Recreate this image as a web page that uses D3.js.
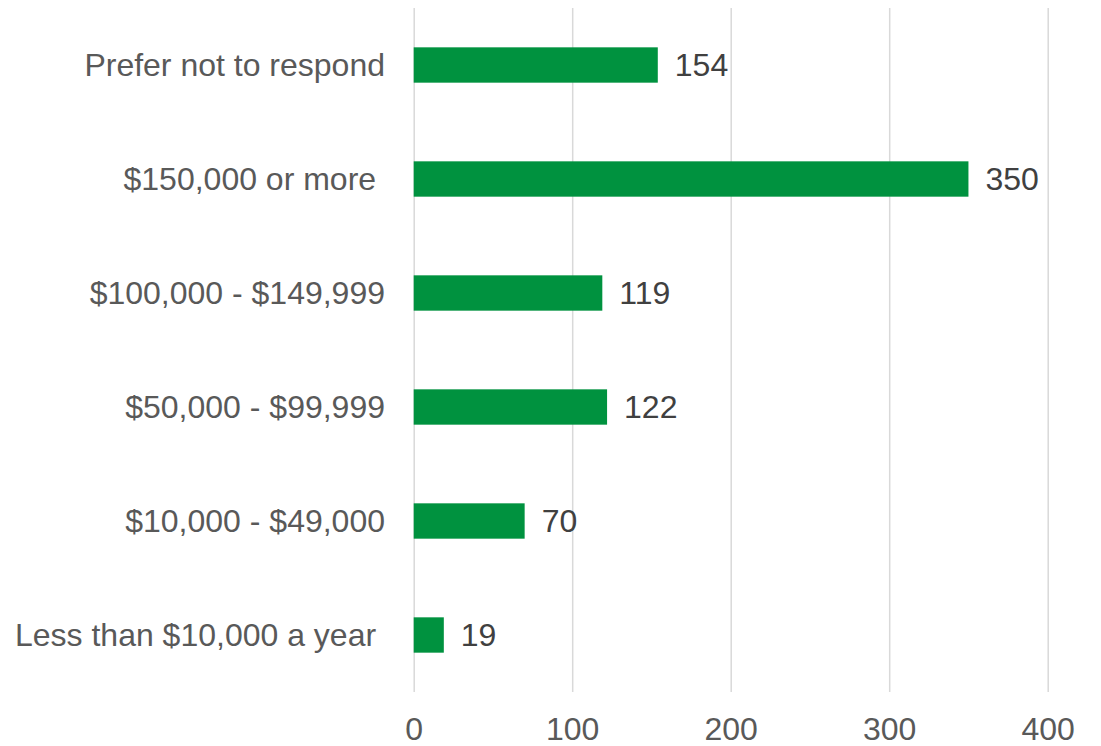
<!DOCTYPE html>
<html>
<head>
<meta charset="utf-8">
<script src="https://cdn.jsdelivr.net/npm/d3@7"></script>
<style>
  html, body { margin: 0; padding: 0; background: #fff; }
  svg text { font-family: "Liberation Sans", Arial, sans-serif; white-space: pre; }
</style>
</head>
<body>
<svg id="chart" width="1101" height="746"></svg>
<script>
// categories top to bottom, as in the picture
const categories = [
  'Prefer not to respond',
  '$150,000 or more ',
  '$100,000 - $149,999',
  '$50,000 - $99,999',
  '$10,000 - $49,000',
  'Less than $10,000 a year '
];
const counts = [154, 350, 119, 122, 70, 19];
const tickValues = [0, 100, 200, 300, 400];

const svg = d3.select('#chart');

const x = d3.scaleLinear()
  .domain([0, 400])
  .range([413.7, 1047.7]);

const y = d3.scaleBand()
  .domain(categories)
  .range([8, 692])
  .paddingInner(0.69)
  .paddingOuter(0.345);

// vertical gridlines
const grid = d3.axisBottom(x)
  .tickValues(tickValues)
  .tickSize(684)
  .tickFormat('');

svg.append('g')
  .attr('class', 'grid')
  .attr('transform', 'translate(0,8)')
  .call(grid)
  .call(g => g.select('.domain').remove())
  .call(g => g.selectAll('line').attr('stroke', '#d9d9d9').attr('stroke-width', 1.5));

// x tick labels
const xAxis = d3.axisBottom(x)
  .tickValues(tickValues)
  .tickSize(0)
  .tickPadding(0);

svg.append('g')
  .attr('class', 'x axis')
  .attr('transform', 'translate(0,740)')
  .call(xAxis)
  .call(g => g.select('.domain').remove())
  .call(g => g.selectAll('text')
    .attr('dy', 0)
    .attr('y', 0)
    .attr('fill', '#595959')
    .style('font-size', '32px'));

const rows = categories.map((c, i) => ({ cat: c, val: counts[i] }));

// bars
svg.append('g')
  .selectAll('rect')
  .data(rows)
  .join('rect')
  .attr('x', x(0))
  .attr('y', d => y(d.cat))
  .attr('width', d => x(d.val) - x(0))
  .attr('height', y.bandwidth())
  .attr('fill', '#00923f');

// category labels
svg.append('g')
  .selectAll('text')
  .data(rows)
  .join('text')
  .attr('x', 385)
  .attr('y', d => y(d.cat) + y.bandwidth() / 2 + 11)
  .attr('text-anchor', 'end')
  .attr('fill', '#595959')
  .style('font-size', '32px')
  .text(d => d.cat);

// value labels
svg.append('g')
  .selectAll('text')
  .data(rows)
  .join('text')
  .attr('x', d => x(d.val) + 17)
  .attr('y', d => y(d.cat) + y.bandwidth() / 2 + 11)
  .attr('fill', '#404040')
  .style('font-size', '32px')
  .text(d => d.val);
</script>
</body>
</html>
